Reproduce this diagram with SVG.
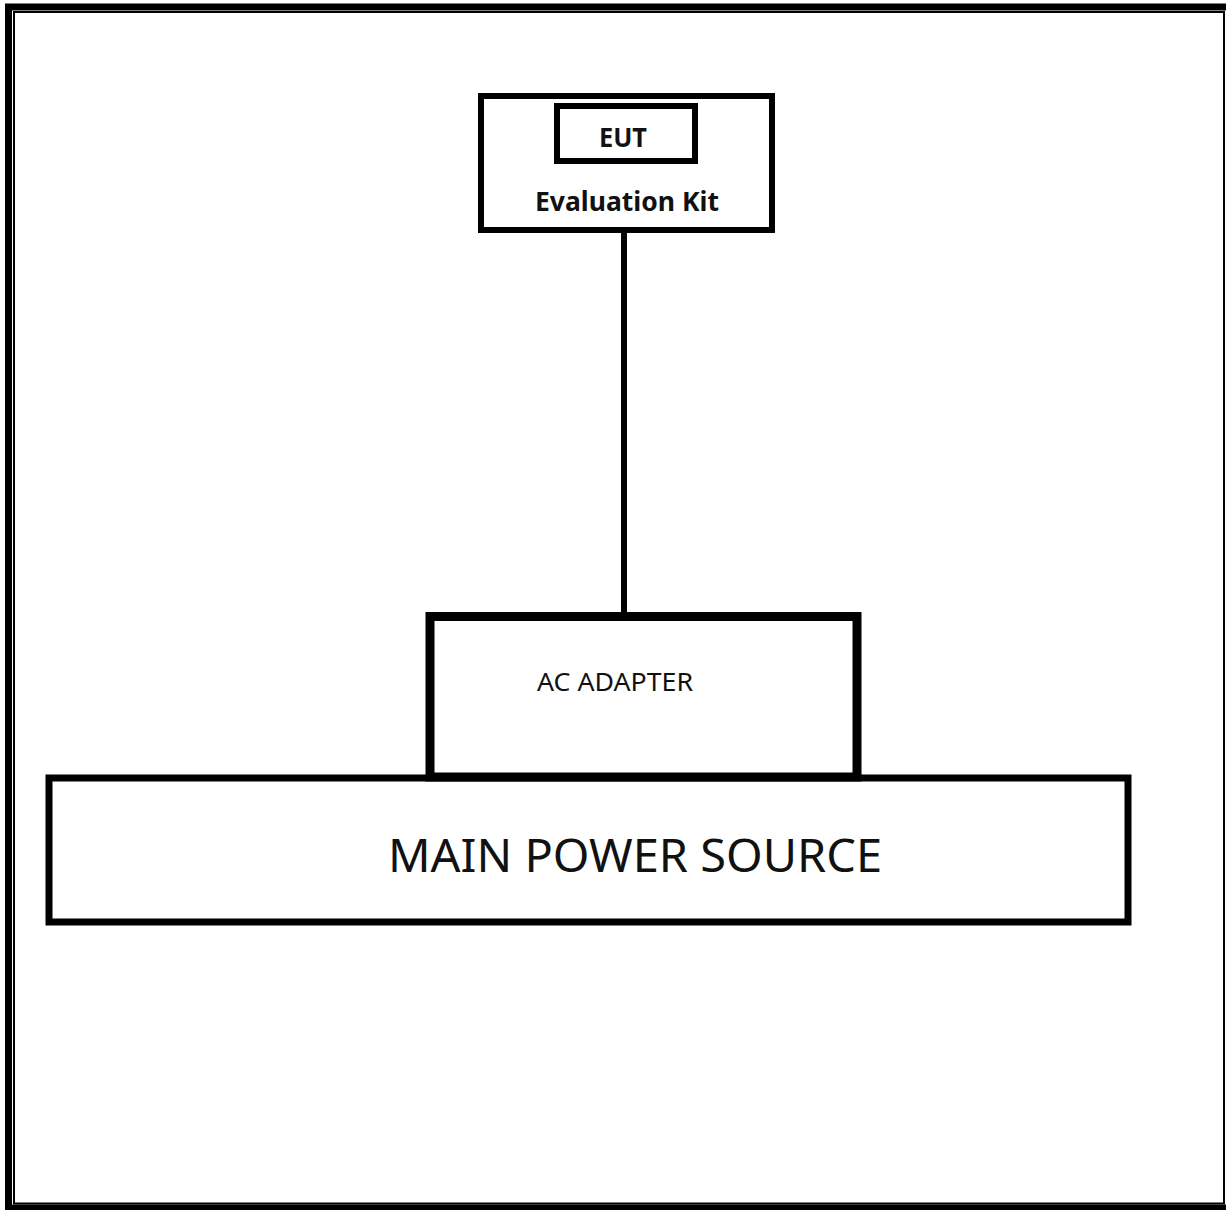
<svg xmlns="http://www.w3.org/2000/svg" width="1226" height="1210" viewBox="0 0 1226 1210">
<style>
.box{fill:#fff;stroke:#000}
.t{font-family:"Noto Sans","Open Sans","Liberation Sans",sans-serif;fill:#111}
.b{font-weight:bold}
</style>
<rect width="1226" height="1210" fill="#fff"/>
<g id="frame">
<rect x="8.5" y="7" width="1224" height="1201" fill="none" stroke="#000" stroke-width="7" />
<rect x="14" y="12" width="1210" height="1191.5" fill="none" stroke="#000" stroke-width="2"/>
</g>
<g id="connectors">
<line x1="624" y1="231" x2="624" y2="616" stroke="#000" stroke-width="6"/>
</g>
<g id="evaluation-kit">
<rect class="box" x="481" y="96" width="291" height="134" stroke-width="6"/>
<text class="t b" x="627" y="211" font-size="27" text-anchor="middle" textLength="184" lengthAdjust="spacingAndGlyphs">Evaluation Kit</text>
</g>
<g id="eut">
<rect class="box" x="557" y="106" width="138" height="55" stroke-width="6"/>
<text class="t b" x="623" y="147" font-size="27" text-anchor="middle" textLength="48" lengthAdjust="spacingAndGlyphs">EUT</text>
</g>
<g id="main-power-source">
<rect class="box" x="49" y="778" width="1079" height="144" stroke-width="7"/>
<text class="t" x="388" y="872" font-size="46" textLength="494" lengthAdjust="spacingAndGlyphs">MAIN POWER SOURCE</text>
</g>
<g id="ac-adapter">
<rect class="box" x="430" y="616.5" width="427" height="160.5" stroke-width="9"/>
<text class="t" x="537" y="691" font-size="25" textLength="156" lengthAdjust="spacingAndGlyphs">AC ADAPTER</text>
</g>
</svg>
